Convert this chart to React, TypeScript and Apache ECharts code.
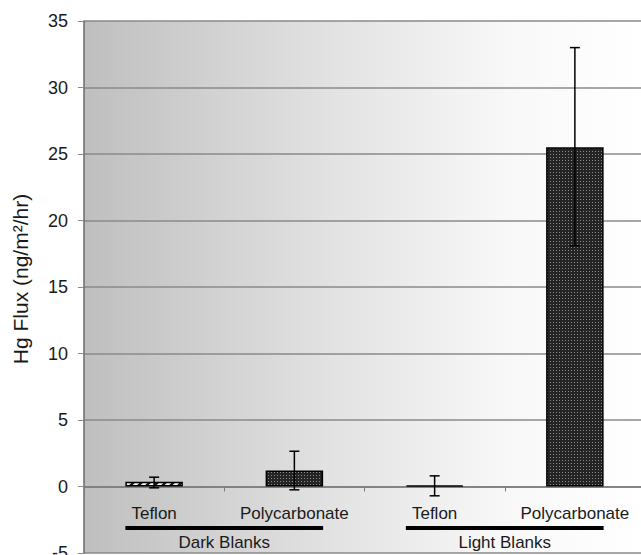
import React, { useEffect, useRef } from "react";
import * as echarts from "echarts";

const categories = ["Teflon", "Polycarbonate", "Teflon", "Polycarbonate"];
const fluxValues = [0.35, 1.2, 0.08, 25.5];
const errorLow = [-0.1, -0.25, -0.7, 18.1];
const errorHigh = [0.7, 2.65, 0.8, 33.0];
const groupNames = ["Dark Blanks", "Light Blanks"];
const groupFirst = [0, 2];
const groupLast = [1, 3];
const yMin = -5;
const yMax = 35;
const yStep = 5;
const yName = "Hg Flux (ng/m\u00B2/hr)";

const FONT = '"Liberation Sans", Arial, sans-serif';

function makePattern(w: number, h: number, draw: (ctx: CanvasRenderingContext2D) => void) {
  const c = document.createElement("canvas");
  c.width = w;
  c.height = h;
  const ctx = c.getContext("2d") as CanvasRenderingContext2D;
  draw(ctx);
  return { image: c, repeat: "repeat", imageWidth: w, imageHeight: h } as any;
}

export default function App() {
  const ref = useRef<HTMLDivElement>(null);
  useEffect(() => {
    document.body.style.margin = "0";
    const chart = echarts.init(ref.current!, null, { renderer: "svg" });

    const hatch = makePattern(8, 8, (ctx) => {
      ctx.fillStyle = "#ffffff";
      ctx.fillRect(0, 0, 8, 8);
      ctx.strokeStyle = "#1a1a1a";
      ctx.lineWidth = 2.6;
      ctx.beginPath();
      ctx.moveTo(-2, 10);
      ctx.lineTo(10, -2);
      ctx.moveTo(-6, 6);
      ctx.lineTo(6, -6);
      ctx.moveTo(2, 14);
      ctx.lineTo(14, 2);
      ctx.stroke();
    });
    const dots = makePattern(3, 3, (ctx) => {
      ctx.fillStyle = "#242424";
      ctx.fillRect(0, 0, 3, 3);
      ctx.fillStyle = "#8a8a8a";
      ctx.fillRect(1, 1, 1, 1);
    });
    const fills = [hatch, dots, hatch, dots];

    const option: any = {
      animation: false,
      grid: {
        left: 84,
        top: 21,
        width: 561,
        height: 532,
        show: true,
        borderWidth: 0,
        containLabel: false,
        outerBoundsMode: "none",
        backgroundColor: new echarts.graphic.LinearGradient(0, 0, 1, 0, [
          { offset: 0, color: "#bfbfbf" },
          { offset: 0.45, color: "#e3e3e3" },
          { offset: 0.75, color: "#f8f8f8" },
          { offset: 1, color: "#ffffff" },
        ]),
      },
      xAxis: {
        type: "category",
        data: categories,
        axisLine: { onZero: true, lineStyle: { color: "#7a7a7a", width: 1.5 } },
        axisTick: { show: true, length: 5, alignWithLabel: false, interval: 0, lineStyle: { color: "#7a7a7a" } },
        axisLabel: { show: false },
        splitLine: { show: false },
      },
      yAxis: {
        type: "value",
        min: yMin,
        max: yMax,
        interval: yStep,
        name: yName,
        nameLocation: "middle",
        nameGap: 53,
        nameTextStyle: { fontSize: 21, color: "#1a1a1a", fontFamily: FONT, padding: [0, 0, 0, 16] },
        axisLine: { show: true, lineStyle: { color: "#6a6a6a", width: 1.5 } },
        axisTick: { show: true, length: 6, lineStyle: { color: "#8a8a8a" } },
        axisLabel: { margin: 16, fontSize: 18, color: "#1a1a1a", fontFamily: FONT },
        splitLine: { show: true, lineStyle: { color: "#8a8a8a", width: 1.6 } },
      },
      series: [
        {
          type: "bar",
          barWidth: "41%",
          data: fluxValues.map((v, i) => ({
            value: v,
            itemStyle: { color: fills[i], borderColor: "#000", borderWidth: 1.5 },
          })),
          z: 3,
        },
        {
          type: "custom",
          z: 5,
          clip: false,
          data: categories.map((_, i) => [i, errorLow[i], errorHigh[i]]),
          encode: { x: 0, y: [1, 2] },
          renderItem: (params: any, api: any) => {
            const x = api.value(0);
            const lo = api.coord([x, api.value(1)]);
            const hi = api.coord([x, api.value(2)]);
            const zero = api.coord([x, 0]);
            const cap = 5;
            const st = { stroke: "#000", lineWidth: 1.5 };
            return {
              type: "group",
              children: [
                { type: "line", shape: { x1: lo[0], y1: lo[1], x2: hi[0], y2: hi[1] }, style: st },
                { type: "line", shape: { x1: lo[0] - cap, y1: lo[1], x2: lo[0] + cap, y2: lo[1] }, style: st },
                { type: "line", shape: { x1: hi[0] - cap, y1: hi[1], x2: hi[0] + cap, y2: hi[1] }, style: st },
                {
                  type: "text",
                  x: zero[0],
                  y: zero[1] + 27,
                  style: {
                    text: categories[params.dataIndex],
                    fill: "#1a1a1a",
                    fontSize: 17,
                    fontFamily: FONT,
                    align: "center",
                    verticalAlign: "middle",
                  },
                },
              ],
            };
          },
        },
        {
          type: "custom",
          z: 5,
          clip: false,
          data: groupFirst.map((f, i) => [f, groupLast[i], 0]),
          encode: { x: [0, 1], y: 2 },
          renderItem: (params: any, api: any) => {
            const a = api.coord([api.value(0), 0]);
            const b = api.coord([api.value(1), 0]);
            const bw = api.size([1, 0])[0] * 0.41;
            const x1 = a[0] - bw / 2;
            const x2 = b[0] + bw / 2;
            const y = a[1] + 41.5;
            return {
              type: "group",
              children: [
                { type: "line", shape: { x1, y1: y, x2, y2: y }, style: { stroke: "#000", lineWidth: 4 } },
                {
                  type: "text",
                  x: (x1 + x2) / 2,
                  y: y + 14,
                  style: {
                    text: groupNames[params.dataIndex],
                    fill: "#1a1a1a",
                    fontSize: 17,
                    fontFamily: FONT,
                    align: "center",
                    verticalAlign: "middle",
                  },
                },
              ],
            };
          },
        },
      ],
    };
    chart.setOption(option);
    return () => chart.dispose();
  }, []);
  return <div ref={ref} style={{ width: 641, height: 555 }} />;
}
